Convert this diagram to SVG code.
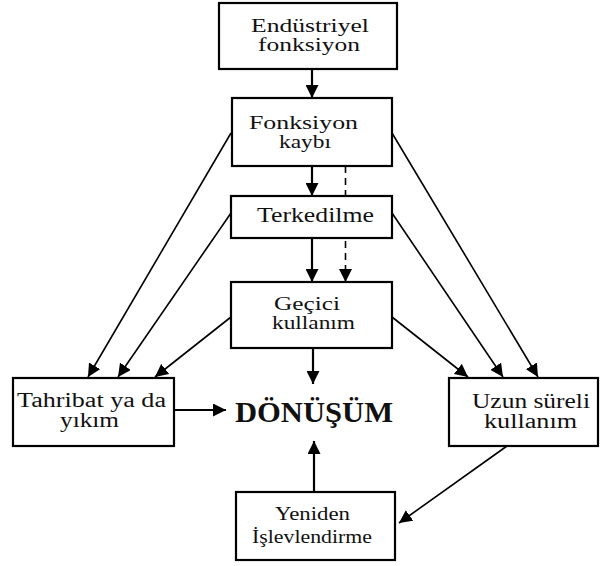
<svg xmlns="http://www.w3.org/2000/svg" width="602" height="566" viewBox="0 0 602 566">
<style>
.box{fill:#fff;stroke:#000;stroke-width:2.2}
.t{font-family:"Liberation Serif","Times New Roman",serif;font-size:19px;fill:#111;text-anchor:middle}
.c{fill:none;stroke:#000;stroke-width:1.6}
.v{fill:none;stroke:#000;stroke-width:2.2}
.d{fill:none;stroke:#000;stroke-width:1.6;stroke-dasharray:7,5}
</style>
<defs>
<marker id="ah" viewBox="0 0 12 12" refX="12" refY="6" markerWidth="13" markerHeight="13" markerUnits="userSpaceOnUse" orient="auto">
<path d="M0,0 L12,6 L0,12 z" fill="#000"/>
</marker>
</defs>
<rect width="602" height="566" fill="#fff"/>
<g id="connectors">
<line class="v" x1="312" y1="69" x2="312" y2="98" marker-end="url(#ah)"/>
<line class="v" x1="312" y1="166" x2="312" y2="196" marker-end="url(#ah)"/>
<line class="d" x1="345.5" y1="166" x2="345.5" y2="196"/>
<line class="v" x1="312" y1="238" x2="312" y2="282" marker-end="url(#ah)"/>
<line class="d" x1="345.5" y1="241" x2="345.5" y2="282" marker-end="url(#ah)"/>
<line class="v" x1="313" y1="348" x2="313" y2="384" marker-end="url(#ah)"/>
<line class="v" x1="174" y1="410" x2="226" y2="410" marker-end="url(#ah)"/>
<line class="v" x1="314" y1="492" x2="314" y2="441" marker-end="url(#ah)"/>
<line class="c" x1="507" y1="446" x2="399" y2="523" marker-end="url(#ah)"/>
<line class="c" x1="231" y1="133" x2="88" y2="377" marker-end="url(#ah)"/>
<line class="c" x1="231" y1="213" x2="118" y2="377" marker-end="url(#ah)"/>
<line class="c" x1="231" y1="317" x2="155" y2="377" marker-end="url(#ah)"/>
<line class="c" x1="392" y1="133" x2="538" y2="377" marker-end="url(#ah)"/>
<line class="c" x1="392" y1="213" x2="503" y2="377" marker-end="url(#ah)"/>
<line class="c" x1="392" y1="317" x2="468" y2="377" marker-end="url(#ah)"/>
</g>
<g id="endustriyel">
<rect class="box" x="219" y="3" width="178" height="66"/>
<text class="t" x="310" y="32" textLength="118" lengthAdjust="spacingAndGlyphs">Endüstriyel</text>
<text class="t" x="309" y="51" textLength="102" lengthAdjust="spacingAndGlyphs">fonksiyon</text>
</g>
<g id="fonksiyon-kaybi">
<rect class="box" x="232" y="98" width="160" height="68"/>
<text class="t" x="303.5" y="129" textLength="109" lengthAdjust="spacingAndGlyphs">Fonksiyon</text>
<text class="t" x="305" y="148" textLength="52" lengthAdjust="spacingAndGlyphs">kaybı</text>
</g>
<g id="terkedilme">
<rect class="box" x="231" y="196" width="161" height="42"/>
<text class="t" x="315.5" y="222" style="font-size:21px" textLength="117" lengthAdjust="spacingAndGlyphs">Terkedilme</text>
</g>
<g id="gecici">
<rect class="box" x="231" y="282" width="161" height="66"/>
<text class="t" x="307" y="310" textLength="66" lengthAdjust="spacingAndGlyphs">Geçici</text>
<text class="t" x="313.5" y="329" textLength="83" lengthAdjust="spacingAndGlyphs">kullanım</text>
</g>
<g id="tahribat">
<rect class="box" x="13" y="378" width="161" height="68"/>
<text class="t" x="91.5" y="407" style="font-size:20px" textLength="149" lengthAdjust="spacingAndGlyphs">Tahribat ya da</text>
<text class="t" x="89.5" y="427" style="font-size:20px" textLength="59" lengthAdjust="spacingAndGlyphs">yıkım</text>
</g>
<g id="donusum">
<text x="314" y="422" style="font-family:'Liberation Serif','Times New Roman',serif;font-size:30px;font-weight:bold;text-anchor:middle" fill="#111" textLength="158" lengthAdjust="spacingAndGlyphs">DÖNÜŞÜM</text>
</g>
<g id="uzun">
<rect class="box" x="449" y="378" width="149" height="68"/>
<text class="t" x="531" y="408" style="font-size:20px" textLength="118" lengthAdjust="spacingAndGlyphs">Uzun süreli</text>
<text class="t" x="530.5" y="428" style="font-size:20px" textLength="93" lengthAdjust="spacingAndGlyphs">kullanım</text>
</g>
<g id="yeniden">
<rect class="box" x="236" y="492" width="159" height="68"/>
<text class="t" x="312.5" y="520" style="font-size:19px" textLength="75" lengthAdjust="spacingAndGlyphs">Yeniden</text>
<text class="t" x="312" y="543" style="font-size:19px" textLength="120" lengthAdjust="spacingAndGlyphs">İşlevlendirme</text>
</g>
</svg>
